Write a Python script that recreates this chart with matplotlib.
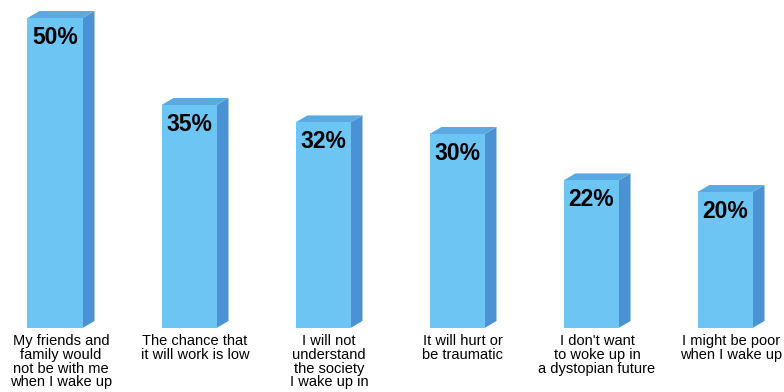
import numpy as np
import matplotlib.pyplot as plt
from matplotlib.patches import Polygon

categories = [
    "My friends and\nfamily would\nnot be with me\nwhen I wake up",
    "The chance that\nit will work is low",
    "I will not\nunderstand\nthe society\nI wake up in",
    "It will hurt or\nbe traumatic",
    "I don't want\nto woke up in\na dystopian future",
    "I might be poor\nwhen I wake up",
]
values = [50, 35, 32, 30, 22, 20]
labels = ["50%", "35%", "32%", "30%", "22%", "20%"]

# colours of the fake 3d bars
front_col = "#6dc5f4"
side_col = "#4a92d4"
top_col = "#5aa9e3"

# pixel scale: 134 px per category, 5.8 px per percent, 0% sits at y=308px
px_x, px_y = 134.0, 5.8
floor = -20 / px_y          # bars start a bit below zero
dx, dy = 12 / px_x, 7 / px_y
w = 55 / px_x

fig = plt.figure(figsize=(7.84, 3.92), dpi=100)
ax = fig.add_axes([0, 0, 1, 1])
ax.set_xlim(-55 / px_x, (784 - 55) / px_x)
ax.set_ylim(-(392 - 308) / px_y, 308 / px_y)
ax.axis("off")

x = np.arange(len(values))
vals = np.array(values, dtype=float)

ax.bar(x, vals - floor, bottom=floor, width=w, color=front_col, linewidth=0, zorder=3)

for xi, v in zip(x, vals):
    r = xi + w / 2
    l = xi - w / 2
    side = Polygon([(r, floor), (r, v), (r + dx, v + dy), (r + dx, floor + dy)],
                   closed=True, facecolor=side_col, edgecolor="none", zorder=2)
    top = Polygon([(l, v), (r, v), (r + dx, v + dy), (l + dx, v + dy)],
                  closed=True, facecolor=top_col, edgecolor="none", zorder=2)
    ax.add_patch(side)
    ax.add_patch(top)

for xi, v, lab in zip(x, vals, labels):
    ax.text(xi - w / 2 + 5 / px_x, v - 26 / px_y, lab, ha="left", va="baseline",
            fontsize=16.5, fontweight="bold", family="Liberation Sans", color="black", zorder=4)

for xi, cat in zip(x, categories):
    ax.text(xi + 6 / px_x, -(334 - 308) / px_y, cat, ha="center", va="top",
            fontsize=10.5, family="Liberation Sans", linespacing=0.98, color="black")

fig.savefig("out.png", dpi=100)
